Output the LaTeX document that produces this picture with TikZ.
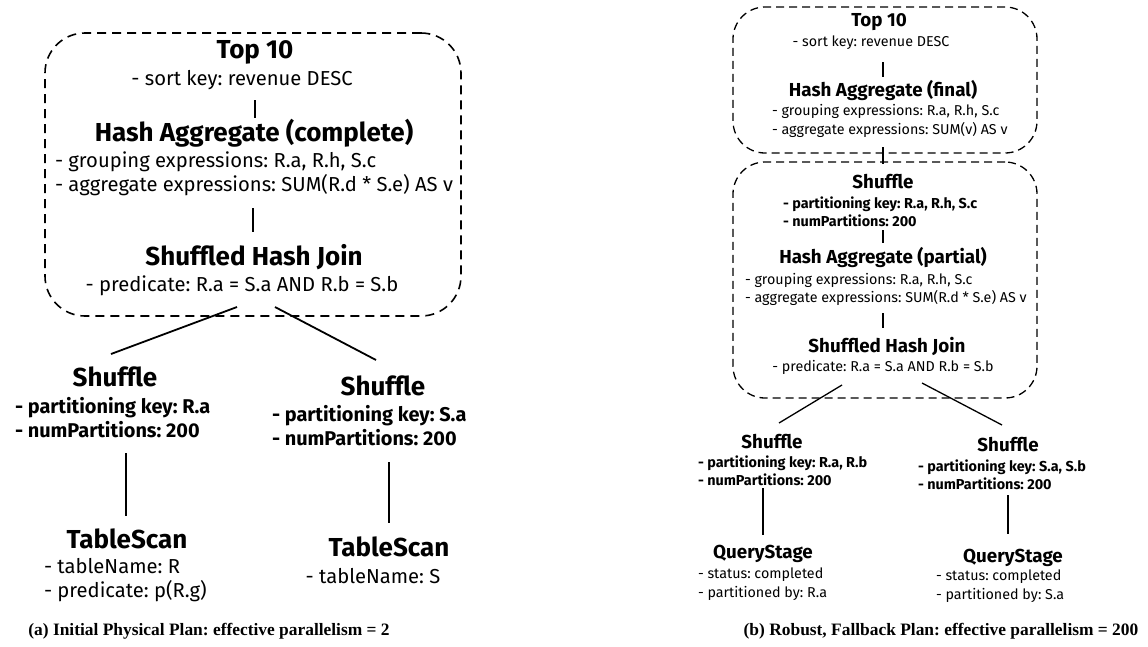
\documentclass[tikz,border=0pt]{standalone}
\usepackage{fontspec}
\setmainfont{Fira Sans}
\newfontfamily\capfont{Liberation Serif}
\usetikzlibrary{calc}
\frenchspacing
\tikzset{
  every node/.style={inner sep=0pt, outer sep=0pt},
  lhead/.style={font=\bfseries\fontsize{26}{29}\selectfont},
  ltext/.style={font=\fontsize{20.2}{24}\selectfont, align=left},
  lbold/.style={font=\bfseries\fontsize{19.9}{24}\selectfont, align=left},
  rhead/.style={font=\bfseries\fontsize{18.8}{21}\selectfont},
  rtext/.style={font=\fontsize{14.3}{18.5}\selectfont, align=left},
  rbold/.style={font=\bfseries\fontsize{14.4}{18}\selectfont, align=left},
  capt/.style={font=\capfont\bfseries\fontsize{17.4}{19}\selectfont},
  lbox/.style={draw, line width=1.6pt, dash pattern=on 9pt off 6pt, rounded corners=40pt},
  rbox/.style={draw, line width=1.3pt, dash pattern=on 8pt off 5pt, rounded corners=32pt},
  conn/.style={draw, line width=1.8pt},
  rconn/.style={draw, line width=1.3pt}
}
\begin{document}
\begin{tikzpicture}[x=1pt,y=-1pt]
\useasboundingbox[fill=white] (0,0) rectangle (1148,646);
% ---------- left panel ----------
\node[lbox, minimum width=416pt, minimum height=283pt] (lbx) at (253,174.5) {};
\node[lhead] (L1) at (255,52) {Top 10};
\node[ltext] (L1s) at (242,80) {- sort key: revenue DESC};
\node[lhead] (L2) at (254,133) {Hash Aggregate (complete)};
\node[ltext, anchor=west] (L2s) at (55,174) {- grouping expressions: R.a, R.h, S.c\\- aggregate expressions: SUM(R.d * S.e) AS v};
\node[lhead] (L3) at (254,257) {Shuffled Hash Join};
\node[ltext] (L3s) at (242,286) {- predicate: R.a = S.a AND R.b = S.b};
\node[lhead] (LS1) at (115,377) {Shuffle};
\node[lbold, anchor=west] (LS1s) at (15,418) {- partitioning key: R.a\\- numPartitions: 200};
\node[lhead] (LT1) at (127,539) {TableScan};
\node[ltext, anchor=west] (LT1s) at (44,580) {- tableName: R\\- predicate: p(R.g)};
\node[lhead] (LS2) at (383,386) {Shuffle};
\node[lbold, anchor=west] (LS2s) at (272,426) {- partitioning key: S.a\\- numPartitions: 200};
\node[lhead] (LT2) at (389,547) {TableScan};
\node[ltext] (LT2s) at (373,576) {- tableName: S};
\draw[conn] ($(L1s.center)+(13,20)$) -- ($(L2.center)+(1,-15)$);
\draw[conn] ($(L2s.west)+(198,34)$) -- ($(L3.center)+(-1,-25)$);
\draw[conn] ($(L3s.center)+(-5,21)$) -- ($(LS1.center)+(-4,-23)$);
\draw[conn] ($(L3s.center)+(33,21)$) -- ($(LS2.center)+(-7,-26)$);
\draw[conn] ($(LS1s.west)+(111,35)$) -- ($(LT1.center)+(-1,-23)$);
\draw[conn] ($(LS2s.west)+(117,36)$) -- ($(LT2.center)+(0,-24)$);
\node[capt] (capA) at (209,631) {(a) Initial Physical Plan: effective parallelism = 2};
% ---------- right panel ----------
\node[rbox, minimum width=304pt, minimum height=146pt] (rb1) at (885,80) {};
\node[rbox, minimum width=304pt, minimum height=236pt] (rb2) at (885,280) {};
\node[rhead] (R1) at (879,22) {Top 10};
\node[rtext] (R1s) at (871,43) {- sort key: revenue DESC};
\node[rhead] (R2) at (883,91) {Hash Aggregate (final)};
\node[rtext, anchor=west] (R2s) at (772,121) {- grouping expressions: R.a, R.h, S.c\\- aggregate expressions: SUM(v) AS v};
\node[rhead] (R3) at (883,182) {Shuffle};
\node[rbold, anchor=west] (R3s) at (783,211.5) {- partitioning key: R.a, R.h, S.c\\- numPartitions: 200};
\node[rhead] (R4) at (883,258) {Hash Aggregate (partial)};
\node[rtext, anchor=west] (R4s) at (745,289.5) {- grouping expressions: R.a, R.h, S.c\\- aggregate expressions: SUM(R.d * S.e) AS v};
\node[rhead] (R5) at (887,346) {Shuffled Hash Join};
\node[rtext] (R5s) at (883,367) {- predicate: R.a = S.a AND R.b = S.b};
\node[rhead] (RS1) at (772,442) {Shuffle};
\node[rbold, anchor=west] (RS1s) at (698,471) {- partitioning key: R.a, R.b\\- numPartitions: 200};
\node[rhead] (RQ1) at (763,554) {QueryStage};
\node[rtext, anchor=west] (RQ1s) at (698,584) {- status: completed\\- partitioned by: R.a};
\node[rhead] (RS2) at (1008,445) {Shuffle};
\node[rbold, anchor=west] (RS2s) at (918,474.5) {- partitioning key: S.a, S.b\\- numPartitions: 200};
\node[rhead] (RQ2) at (1013,558) {QueryStage};
\node[rtext, anchor=west] (RQ2s) at (936,586) {- status: completed\\- partitioned by: S.a};
\draw[rconn] ($(rb1.center)+(-2,67)$) -- ($(rb2.center)+(-2,-116)$);
\draw[rconn] ($(R1s.center)+(12,19)$) -- ($(R2.center)+(0,-14)$);
\draw[rconn] ($(R3s.west)+(100,18.5)$) -- ($(R4.center)+(0,-15)$);
\draw[rconn] ($(R4s.west)+(138,23.5)$) -- ($(R5.center)+(-4,-18)$);
\draw[rconn] ($(R5s.center)+(-41,18)$) -- ($(RS1.center)+(7,-19)$);
\draw[rconn] ($(R5s.center)+(39,16)$) -- ($(RS2.center)+(-6,-20)$);
\draw[rconn] ($(RS1s.west)+(65,17)$) -- ($(RQ1.center)+(0,-19)$);
\draw[rconn] ($(RS2s.west)+(90,20.5)$) -- ($(RQ2.center)+(-5,-24)$);
\node[capt] (capB) at (941,631) {(b) Robust, Fallback Plan: effective parallelism = 200};
\end{tikzpicture}
\end{document}
